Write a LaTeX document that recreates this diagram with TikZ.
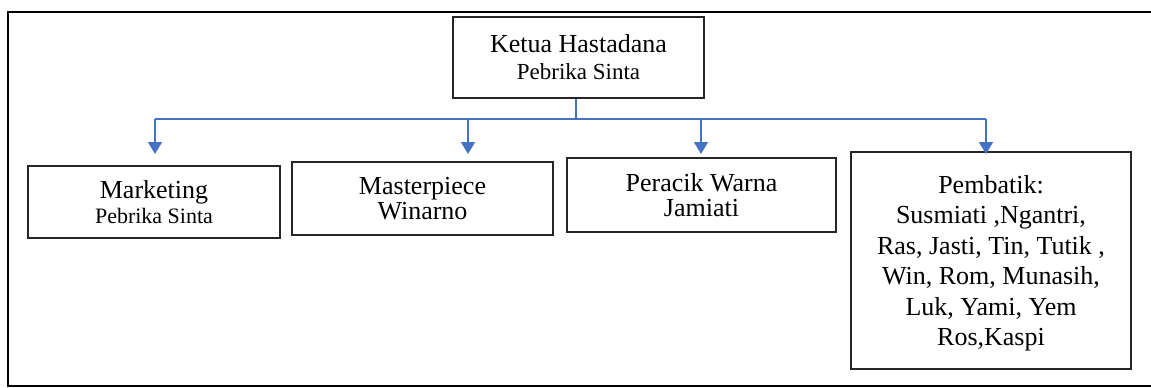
\documentclass[tikz,border=0pt]{standalone}
\usepackage{fontspec}
\setmainfont{Liberation Serif}
\usetikzlibrary{arrows.meta}
\definecolor{connblue}{HTML}{4472C4}
\definecolor{boxline}{HTML}{262626}
\tikzset{
  orgbox/.style={draw=boxline, line width=2.2pt, align=center, inner sep=0pt},
  conn/.style={draw=connblue, line width=1.6pt, -{Triangle[width=14pt,length=12pt]}},
  connplain/.style={draw=connblue, line width=1.6pt},
}
\begin{document}
\begin{tikzpicture}[x=1pt,y=-1pt]
\useasboundingbox (0,0) rectangle (1151,388);
% outer frame (right side runs off the page)
\draw[line width=2pt] (1160,12) -- (8,12) -- (8,386) -- (1160,386);

\node[orgbox, minimum width=251pt, minimum height=81pt, font={\fontsize{26}{27}\selectfont}] (top) at (578.5,57.5)
  {Ketua Hastadana\\ {\fontsize{23}{27}\selectfont Pebrika Sinta}};

\node[orgbox, minimum width=252pt, minimum height=72pt, font={\fontsize{26}{25.5}\selectfont}] (mkt) at (154,202)
  {Marketing\\ {\fontsize{22}{25.5}\selectfont Pebrika Sinta}};

\node[orgbox, minimum width=261pt, minimum height=73pt, font={\fontsize{26}{25.5}\selectfont}] (mp) at (422.5,198.5)
  {Masterpiece\\ Winarno};

\node[orgbox, minimum width=269pt, minimum height=74pt, font={\fontsize{26}{25.5}\selectfont}] (pw) at (701.5,195)
  {Peracik Warna\\ Jamiati};

\node[orgbox, minimum width=280pt, minimum height=217pt, font={\fontsize{26}{30.5}\selectfont}] (pb) at (991,260.5)
  {\rule{0pt}{24pt}Pembatik:\\ Susmiati ,Ngantri,\\ Ras, Jasti, Tin, Tutik ,\\ Win, Rom, Munasih,\\ Luk, Yami, Yem\\ Ros,Kaspi};

\coordinate (j) at (576,119);
\coordinate (t1) at (155,154);
\coordinate (t2) at (468,154);
\coordinate (t3) at (701,154);
\coordinate (t4) at (986,154);

\draw[connplain] (top.south -| j) -- (j);
\draw[connplain] (155,119) -- (986,119);
\draw[conn] (j -| t1) -- (t1);
\draw[conn] (j -| t2) -- (t2);
\draw[conn] (j -| t3) -- (t3);
\draw[conn] (j -| t4) -- (t4);
\end{tikzpicture}
\end{document}
